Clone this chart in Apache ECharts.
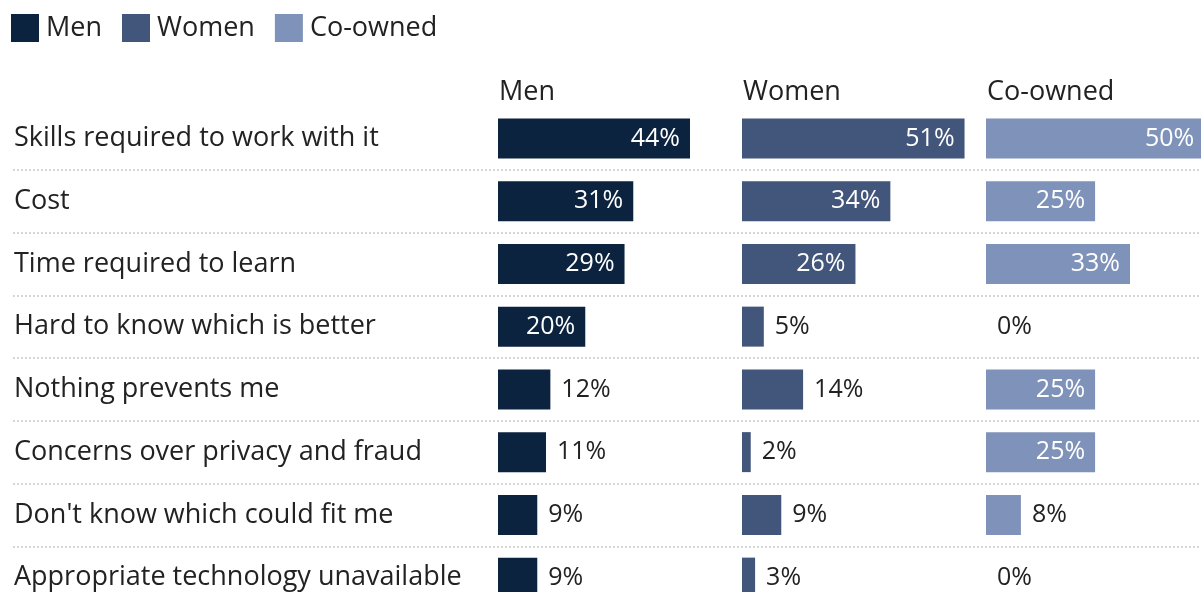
<!DOCTYPE html>
<html>
<head>
<meta charset="utf-8">
<script src="https://cdn.jsdelivr.net/npm/echarts@6/dist/echarts.min.js"></script>
<style>
  html, body { margin: 0; padding: 0; background: #ffffff; }
  #chart { width: 1201px; height: 592px; }
</style>
</head>
<body>
<div id="chart"></div>
<script>
// Barriers to adopting technology, by farm ownership
const categories = [
  'Skills required to work with it',
  'Cost',
  'Time required to learn',
  'Hard to know which is better',
  'Nothing prevents me',
  'Concerns over privacy and fraud',
  "Don't know which could fit me",
  'Appropriate technology unavailable'
];
const groups = ['Men', 'Women', 'Co-owned'];
const men = [44, 31, 29, 20, 12, 11, 9, 9];
const women = [51, 34, 26, 5, 14, 2, 9, 3];
const coOwned = [50, 25, 33, 0, 25, 25, 8, 0];
const colors = ['#0c2340', '#42557b', '#7f92b9'];

const FONT = '"Open Sans", sans-serif';
const TEXT = '#222222';
const INSIDE_MIN = 20;     // values at or above this get their label inside the bar

const panelLeft = [498, 742, 986];
const panelWidth = 240;
const gridTop = 107;
const gridHeight = 502;
const xMax = 55;

function barData(values) {
  return values.map(v => ({
    value: v,
    label: v >= INSIDE_MIN
      ? { position: 'insideRight', distance: 10, color: '#ffffff' }
      : { position: 'right', distance: 11, color: TEXT }
  }));
}

const seriesValues = [men, women, coOwned];

const grids = panelLeft.map(l => ({
  left: l, width: panelWidth, top: gridTop, height: gridHeight, outerBoundsMode: 'none'
}));
// full-width grid carrying the dotted row separators
grids.push({ left: 13, width: 1240, top: gridTop, height: gridHeight, outerBoundsMode: 'none' });

const xAxes = panelLeft.map((l, i) => ({
  type: 'value', gridIndex: i, min: 0, max: xMax,
  show: false
}));
xAxes.push({ type: 'value', gridIndex: 3, min: 0, max: 1, show: false });

const yAxes = panelLeft.map((l, i) => ({
  type: 'category', gridIndex: i, data: categories, inverse: true,
  axisLine: { show: false }, axisTick: { show: false }, splitLine: { show: false },
  axisLabel: i === 0 ? {
    show: true, margin: l - 14, align: 'left', padding: [4, 0, 0, 0],
    fontFamily: FONT, fontSize: 27, color: TEXT
  } : { show: false }
}));
yAxes.push({
  type: 'category', gridIndex: 3, data: categories, inverse: true,
  axisLine: { show: false }, axisTick: { show: false }, axisLabel: { show: false },
  splitLine: {
    show: true,
    interval: (idx) => idx > 0,
    lineStyle: { color: '#c9c9c9', width: 1.5, type: [2, 2] }
  }
});

const option = {
  animation: false,
  backgroundColor: '#ffffff',
  color: colors,
  textStyle: { fontFamily: FONT },
  legend: {
    left: 11, top: 14, padding: 0,
    itemWidth: 28, itemHeight: 28, itemGap: 20,
    icon: 'rect',
    data: groups,
    textStyle: { fontFamily: FONT, fontSize: 27, color: TEXT, padding: [3, 0, 0, 2] }
  },
  title: groups.map((g, i) => ({
    text: g, left: panelLeft[i] + 1, top: 79, padding: 0,
    textStyle: { fontFamily: FONT, fontSize: 27, fontWeight: 'normal', color: TEXT }
  })),
  grid: grids,
  xAxis: xAxes,
  yAxis: yAxes,
  series: groups.map((g, i) => ({
    name: g,
    type: 'bar',
    xAxisIndex: i,
    yAxisIndex: i,
    barWidth: 40,
    itemStyle: { color: colors[i] },
    label: { show: true, formatter: '{c}%', fontFamily: FONT, fontSize: 25, padding: [3, 0, 0, 0] },
    data: barData(seriesValues[i])
  }))
};

const chart = echarts.init(document.getElementById('chart'), null, { renderer: 'canvas' });
chart.setOption(option);
</script>
</body>
</html>
